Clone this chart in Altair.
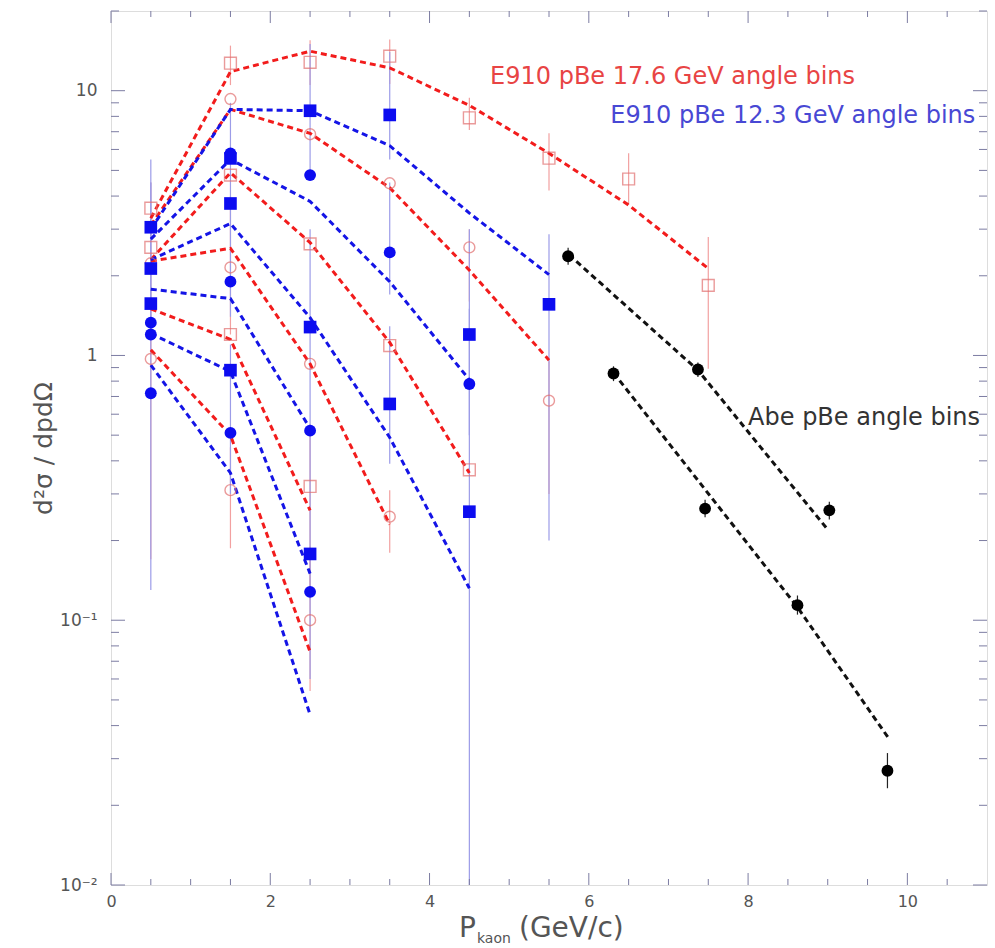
import altair as alt
import pandas as pd

FONT = "DejaVu Sans"

# ---------------- E910 model curves (dashed), one list per angle bin ----------------
# values at p = 0.5, 1.5, 2.5, ... GeV/c (each bin stops where its list ends)
P_GRID = [0.5, 1.5, 2.5, 3.5, 4.5, 5.5, 6.5, 7.5]

curves_176 = [
    [3.3, 11.8, 14.1, 12.2, 8.8, 5.8, 3.7, 2.13],
    [3.1, 8.5, 6.9, 4.3, 2.1, 0.96],
    [2.3, 4.9, 2.67, 1.12, 0.36],
    [2.27, 2.54, 0.93, 0.23],
    [1.5, 1.15, 0.26],
    [1.05, 0.5, 0.076],
]
curves_123 = [
    [3.0, 8.5, 8.4, 6.2, 3.45, 2.02],
    [2.75, 5.5, 3.82, 1.9, 0.81],
    [2.3, 3.15, 1.39, 0.49, 0.132],
    [1.78, 1.64, 0.53],
    [1.21, 0.87, 0.15],
    [0.92, 0.36, 0.044],
]

# ---------------- Abe pBe curves ----------------
abe_curve_p = [[5.75, 7.37, 9.0], [6.31, 8.62, 9.76]]
abe_curve_v = [[2.4, 0.88, 0.22], [0.86, 0.112, 0.036]]

# ---------------- E910 17.6 GeV data (open markers) ----------------
sq176_p = [0.5, 0.5, 1.5, 1.5, 1.5, 2.5, 2.5, 2.5, 3.5, 3.5, 4.5, 4.5, 5.5, 6.5, 7.5]
sq176_v = [3.6, 2.56, 12.7, 4.8, 1.20, 12.8, 2.64, 0.32, 13.5, 1.09, 7.9, 0.37, 5.56, 4.64, 1.84]
ci176_p = [0.5, 0.5, 1.5, 1.5, 1.5, 2.5, 2.5, 2.5, 3.5, 3.5, 4.5, 5.5]
ci176_v = [2.23, 0.97, 9.3, 2.15, 0.31, 6.85, 0.93, 0.100, 4.47, 0.246, 2.56, 0.675]

# ---------------- E910 12.3 GeV data (filled markers) ----------------
sq123_p = [0.5, 0.5, 0.5, 1.5, 1.5, 1.5, 2.5, 2.5, 2.5, 3.5, 3.5, 4.5, 4.5, 5.5]
sq123_v = [3.05, 2.13, 1.57, 5.55, 3.75, 0.88, 8.4, 1.28, 0.178, 8.1, 0.656, 1.20, 0.257, 1.56]
ci123_p = [0.5, 0.5, 0.5, 1.5, 1.5, 1.5, 2.5, 2.5, 2.5, 3.5, 4.5]
ci123_v = [1.33, 1.20, 0.72, 5.8, 1.90, 0.51, 4.8, 0.52, 0.128, 2.45, 0.78]

# ---------------- error bars ----------------
err176_p = [0.5, 1.5, 1.5, 1.5, 2.5, 2.5, 2.5, 3.5, 3.5, 4.5, 4.5, 5.5, 5.5, 6.5, 7.5]
err176_lo = [0.17, 10.5, 1.2, 0.187, 10.5, 0.12, 0.054, 10.6, 0.18, 7.1, 1.6, 4.2, 0.3, 3.7, 0.89]
err176_hi = [4.5, 14.8, 4.0, 0.45, 15.5, 0.55, 0.19, 15.6, 0.31, 9.4, 3.0, 6.9, 0.95, 5.8, 2.8]

err123_p = [0.5, 0.5, 1.5, 1.5, 2.5, 2.5, 2.5, 3.5, 3.5, 3.5, 4.5, 4.5, 5.5]
err123_lo = [0.13, 1.2, 1.4, 0.3, 5.0, 0.5, 0.06, 5.5, 1.7, 0.39, 0.5, 0.005, 0.2]
err123_hi = [5.5, 4.5, 9.0, 1.1, 15.0, 3.0, 0.5, 14.0, 4.5, 1.29, 3.0, 1.5, 2.87]

# ---------------- Abe pBe data ----------------
abe_p = [5.74, 6.31, 7.37, 7.46, 8.62, 9.02, 9.75]
abe_v = [2.37, 0.855, 0.885, 0.264, 0.114, 0.26, 0.027]
abe_lo = [2.2, 0.80, 0.83, 0.245, 0.105, 0.24, 0.0232]
abe_hi = [2.55, 0.91, 0.94, 0.285, 0.124, 0.28, 0.0315]

# ---------------- annotations ----------------
labels = ["E910 pBe 17.6 GeV angle bins", "E910 pBe 12.3 GeV angle bins", "Abe pBe angle bins"]
label_p = [4.76, 6.27, 8.0]
label_v = [10.58, 7.54, 0.548]
label_col = ["#e84444", "#4848d4", "#333333"]

# ---------------- tick positions ----------------
x_major = [0, 2, 4, 6, 8, 10]
x_minor = [i * 0.5 for i in range(1, 22) if i % 4 != 0]
y_major = [0.01, 0.1, 1, 10]
y_minor = [k * 10.0 ** e for e in range(-2, 2) for k in range(2, 10) if k * 10.0 ** e <= 20]

W, H = 876, 874
RED, BLUE, BLACK = "#f21c1c", "#1414e6", "#111111"
FRAME = "#7c7ca2"

xscale = alt.Scale(domain=[0, 11], nice=False, zero=False)
yscale = alt.Scale(type="log", domain=[0.01, 20], nice=False)

ax_x = alt.Axis(values=x_major, ticks=False, domain=False, grid=False,
                labelFontSize=16, labelColor="#555555", labelPadding=8, labelFont=FONT,
                labelFlush=False, title=None)
ax_y = alt.Axis(values=y_major, ticks=False, domain=False, grid=False,
                labelExpr="datum.value >= 5 ? '10' : datum.value >= 0.5 ? '1' : datum.value >= 0.05 ? '10⁻¹' : '10⁻²'",
                labelFontSize=17, labelColor="#555555", labelPadding=14, labelFont=FONT,
                labelOverlap=False, title="d²σ / dpdΩ", titleFontSize=25, titleFont=FONT,
                titleFontWeight="normal", titleColor="#555555", titleX=-68, titleY=437,
                titleAngle=270, titleAlign="center", titleBaseline="middle")


def X(field="p"):
    return alt.X(f"{field}:Q", scale=xscale, axis=ax_x)


def Y(field="v"):
    return alt.Y(f"{field}:Q", scale=yscale, axis=ax_y)


def curve_frame(curves, tag):
    rows = []
    for i, vals in enumerate(curves):
        for p, v in zip(P_GRID, vals):
            rows.append({"p": p, "v": v, "bin": f"{tag}{i}"})
    return pd.DataFrame(rows)


abe_rows = [{"p": p, "v": v, "bin": f"abe{i}"}
            for i, (ps, vs) in enumerate(zip(abe_curve_p, abe_curve_v))
            for p, v in zip(ps, vs)]

dash = dict(strokeDash=[6, 4], strokeWidth=3, clip=True)

# error bars
err_red = alt.Chart(pd.DataFrame({"p": err176_p, "lo": err176_lo, "hi": err176_hi})).mark_rule(
    color="#f2a0a0", strokeWidth=1.2, clip=True).encode(x=X(), y=Y("lo"), y2="hi:Q")
err_blue = alt.Chart(pd.DataFrame({"p": err123_p, "lo": err123_lo, "hi": err123_hi})).mark_rule(
    color="#9c9ce8", strokeWidth=1.2, clip=True).encode(x=X(), y=Y("lo"), y2="hi:Q")
err_abe = alt.Chart(pd.DataFrame({"p": abe_p, "lo": abe_lo, "hi": abe_hi})).mark_rule(
    color="#222222", strokeWidth=1.2, clip=True).encode(x=X(), y=Y("lo"), y2="hi:Q")

# model curves
lines_red = alt.Chart(curve_frame(curves_176, "r")).mark_line(color=RED, **dash).encode(
    x=X(), y=Y(), detail="bin:N", order="p:Q")
lines_blue = alt.Chart(curve_frame(curves_123, "b")).mark_line(color=BLUE, **dash).encode(
    x=X(), y=Y(), detail="bin:N", order="p:Q")
lines_abe = alt.Chart(pd.DataFrame(abe_rows)).mark_line(color=BLACK, **dash).encode(
    x=X(), y=Y(), detail="bin:N", order="p:Q")

# data points
pts_sq176 = alt.Chart(pd.DataFrame({"p": sq176_p, "v": sq176_v})).mark_point(
    shape="square", filled=False, color="#e27070", size=140, strokeWidth=1.4).encode(x=X(), y=Y())
pts_ci176 = alt.Chart(pd.DataFrame({"p": ci176_p, "v": ci176_v})).mark_point(
    shape="circle", filled=False, color="#e27070", size=120, strokeWidth=1.4).encode(x=X(), y=Y())
pts_sq123 = alt.Chart(pd.DataFrame({"p": sq123_p, "v": sq123_v})).mark_point(
    shape="square", filled=True, color="#0c0cf0", size=160, opacity=1).encode(x=X(), y=Y())
pts_ci123 = alt.Chart(pd.DataFrame({"p": ci123_p, "v": ci123_v})).mark_point(
    shape="circle", filled=True, color="#0c0cf0", size=140, opacity=1).encode(x=X(), y=Y())
pts_abe = alt.Chart(pd.DataFrame({"p": abe_p, "v": abe_v})).mark_point(
    shape="circle", filled=True, color="#000000", size=140, opacity=1).encode(x=X(), y=Y())

# series labels
notes = alt.Chart(pd.DataFrame({"p": label_p, "v": label_v, "t": labels, "c": label_col})).mark_text(
    align="left", baseline="alphabetic", fontSize=24, font=FONT).encode(
    x=X(), y=Y(), text="t:N", color=alt.Color("c:N", scale=None))

# inward tick marks on all four sides of the frame
tick_style = dict(color=FRAME, strokeWidth=1)
xt_major = pd.DataFrame({"p": x_major})
xt_minor = pd.DataFrame({"p": x_minor})
yt_major = pd.DataFrame({"v": y_major})
yt_minor = pd.DataFrame({"v": y_minor})

ticks = [
    alt.Chart(xt_major).mark_rule(**tick_style).encode(x=X(), y=alt.value(H), y2=alt.value(H - 12)),
    alt.Chart(xt_minor).mark_rule(**tick_style).encode(x=X(), y=alt.value(H), y2=alt.value(H - 6)),
    alt.Chart(xt_major).mark_rule(**tick_style).encode(x=X(), y=alt.value(0), y2=alt.value(12)),
    alt.Chart(xt_minor).mark_rule(**tick_style).encode(x=X(), y=alt.value(0), y2=alt.value(6)),
    alt.Chart(yt_major).mark_rule(**tick_style).encode(y=Y(), x=alt.value(0), x2=alt.value(14)),
    alt.Chart(yt_minor).mark_rule(**tick_style).encode(y=Y(), x=alt.value(0), x2=alt.value(8)),
    alt.Chart(yt_major).mark_rule(**tick_style).encode(y=Y(), x=alt.value(W), x2=alt.value(W - 14)),
    alt.Chart(yt_minor).mark_rule(**tick_style).encode(y=Y(), x=alt.value(W), x2=alt.value(W - 8)),
]

# x-axis title with subscript
title_parts = pd.DataFrame({"t": ["P", "kaon", "(GeV/c)"]})
xtitle = [
    alt.Chart(pd.DataFrame({"t": ["P"]})).mark_text(
        align="left", baseline="alphabetic", fontSize=28, font=FONT, color="#555555").encode(
        text="t:N", x=alt.value(348), y=alt.value(926)),
    alt.Chart(pd.DataFrame({"t": ["kaon"]})).mark_text(
        align="left", baseline="alphabetic", fontSize=14, font=FONT, color="#555555").encode(
        text="t:N", x=alt.value(366), y=alt.value(932)),
    alt.Chart(pd.DataFrame({"t": ["(GeV/c)"]})).mark_text(
        align="left", baseline="alphabetic", fontSize=28, font=FONT, color="#555555").encode(
        text="t:N", x=alt.value(408), y=alt.value(926)),
]

chart = alt.layer(
    err_red, err_blue, err_abe,
    lines_red, lines_blue, lines_abe,
    pts_sq176, pts_ci176, pts_sq123, pts_ci123, pts_abe,
    notes, *ticks, *xtitle,
).properties(
    width=W, height=H,
    autosize=alt.AutoSizeParams(type="none"),
    padding={"left": 111, "top": 11, "right": 8, "bottom": 63},
).configure_view(
    stroke=FRAME, strokeWidth=1.5
).configure(background="white")

chart.save("out.html", embed_options={"renderer": "svg", "actions": False})
